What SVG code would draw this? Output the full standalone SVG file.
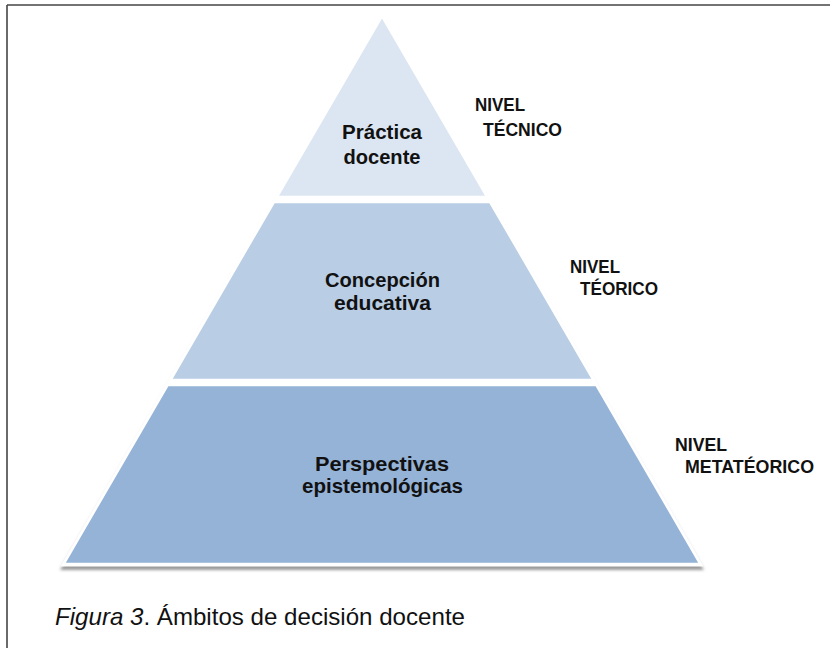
<svg xmlns="http://www.w3.org/2000/svg" width="830" height="648" viewBox="0 0 830 648">
<style>
.tier{stroke:#ffffff;stroke-width:2.5;stroke-linejoin:miter}
.t{font-family:"Liberation Sans",Arial,sans-serif;font-weight:bold;font-size:21px;fill:#111;text-anchor:middle}
.lbl{font-family:"Liberation Sans",Arial,sans-serif;font-weight:bold;font-size:19px;fill:#111}
.cap{font-family:"Liberation Sans",Arial,sans-serif;font-size:24px;fill:#111}
</style>
<defs>
<filter id="sh" x="-10%" y="-10%" width="120%" height="120%">
<feGaussianBlur stdDeviation="1.8"/>
</filter>
</defs>
<rect width="830" height="648" fill="#ffffff"/>
<g id="frame">
<line x1="7" y1="5" x2="830" y2="5" stroke="#444" stroke-width="1.6"/>
<line x1="7" y1="5" x2="7" y2="648" stroke="#444" stroke-width="1.6"/>
</g>
<g id="shadow">
<polygon points="382,18 704,567 60,567" fill="#9a9a9a" filter="url(#sh)" transform="translate(0,3)"/>
<polygon points="382,13 703.5,566.5 60.5,566.5" fill="#ffffff"/>
</g>
<g id="tier-top">
<polygon class="tier" points="382,16 487.2,197 276.8,197" fill="#dce6f2"/>
<text class="t" x="382" y="139" textLength="80" lengthAdjust="spacingAndGlyphs">Práctica</text>
<text class="t" x="382" y="164" textLength="77" lengthAdjust="spacingAndGlyphs">docente</text>
</g>
<g id="tier-middle">
<polygon class="tier" points="273.9,202 490.1,202 593.5,380 170.5,380" fill="#b9cde5"/>
<text class="t" x="382.5" y="287" textLength="115" lengthAdjust="spacingAndGlyphs">Concepción</text>
<text class="t" x="382.5" y="310" textLength="97" lengthAdjust="spacingAndGlyphs">educativa</text>
</g>
<g id="tier-bottom">
<polygon class="tier" points="167.6,385 596.4,385 700.4,564 63.6,564" fill="#95b3d7"/>
<text class="t" x="382" y="471" textLength="134" lengthAdjust="spacingAndGlyphs">Perspectivas</text>
<text class="t" x="382.5" y="493" textLength="161" lengthAdjust="spacingAndGlyphs">epistemológicas</text>
</g>
<g id="label-tecnico">
<text class="lbl" x="475" y="111" textLength="50" lengthAdjust="spacingAndGlyphs">NIVEL</text>
<text class="lbl" x="483" y="136" textLength="79" lengthAdjust="spacingAndGlyphs">TÉCNICO</text>
</g>
<g id="label-teorico">
<text class="lbl" x="570" y="273" textLength="50" lengthAdjust="spacingAndGlyphs">NIVEL</text>
<text class="lbl" x="580" y="295" textLength="78" lengthAdjust="spacingAndGlyphs">TÉORICO</text>
</g>
<g id="label-metateorico">
<text class="lbl" x="675" y="451" textLength="52" lengthAdjust="spacingAndGlyphs">NIVEL</text>
<text class="lbl" x="685" y="473" textLength="129" lengthAdjust="spacingAndGlyphs">METATÉORICO</text>
</g>
<g id="caption">
<text class="cap" x="55" y="625" textLength="410" lengthAdjust="spacingAndGlyphs"><tspan font-style="italic">Figura 3</tspan>. Ámbitos de decisión docente</text>
</g>
</svg>
